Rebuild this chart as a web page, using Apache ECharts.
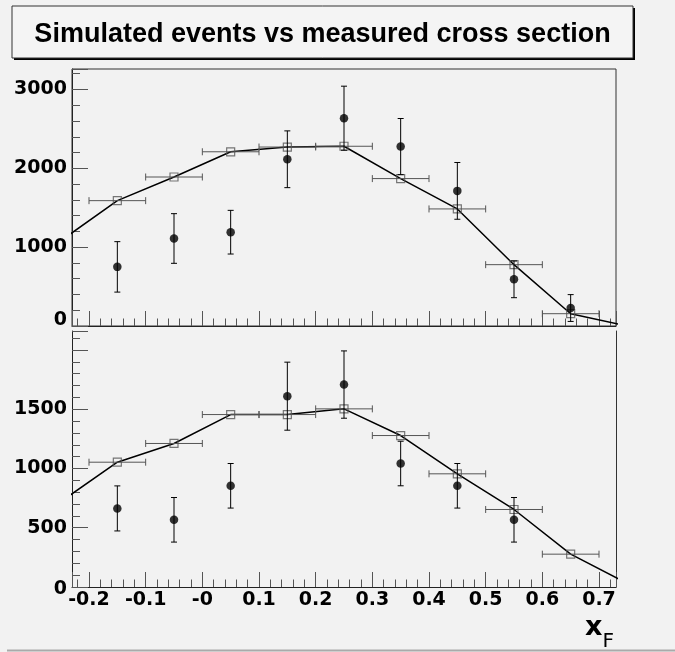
<!DOCTYPE html>
<html>
<head>
<meta charset="utf-8">
<title>Simulated events vs measured cross section</title>
<script src="https://cdn.jsdelivr.net/npm/echarts@6/dist/echarts.min.js"></script>
<style>
  html, body { margin: 0; padding: 0; background: #f2f2f2; }
  #chart { width: 675px; height: 652px; }
</style>
</head>
<body>
<div id="chart"></div>
<script>
// bins in x_F (each 0.1 wide)
const binCenters = [-0.15, -0.05, 0.05, 0.15, 0.25, 0.35, 0.45, 0.55, 0.65]
const binHalfWidth = [0.05, 0.05, 0.05, 0.05, 0.05, 0.05, 0.05, 0.05, 0.05]
// knots of the curve, one extra bin each side (clipped by the frame)
const curveX = [-0.25, -0.15, -0.05, 0.05, 0.15, 0.25, 0.35, 0.45, 0.55, 0.65, 0.75]

// upper panel
const topSimulated = [1590, 1890, 2210, 2270, 2280, 1870, 1485, 778, 156]
const topCurve = [1080, 1590, 1890, 2210, 2270, 2280, 1870, 1485, 778, 156, 0]
const topMeasured = [750, 1110, 1190, 2115, 2636, 2276, 1714, 592, 228]
const topMeasuredErr = [320, 315, 277, 360, 406, 356, 360, 233, 170]

// lower panel
const bottomSimulated = [1053, 1211, 1455, 1455, 1503, 1278, 955, 654, 277]
const bottomCurve = [720, 1053, 1211, 1455, 1455, 1503, 1278, 955, 654, 277, 30]
const bottomMeasured = [663, 567, 854, 1610, 1708, 1042, 854, 567]
const bottomMeasuredErr = [190, 188, 188, 287, 284, 188, 188, 188]

// axes
const xRange = [-0.23, 0.73]
const xTickValues = [-0.2, -0.1, 0, 0.1, 0.2, 0.3, 0.4, 0.5, 0.6, 0.7]
const xTickLabels = ['-0.2', '-0.1', '-0', '0.1', '0.2', '0.3', '0.4', '0.5', '0.6', '0.7']
const topYRange = [0, 3260]
const bottomYRange = [0, 2160]

const chart = echarts.init(document.getElementById('chart'))

const labelFont = { fontFamily: 'DejaVu Sans', fontWeight: 'bold', fontSize: 19, color: '#000' }

function xLabel(v) {
  const i = xTickValues.findIndex(t => Math.abs(t - v) < 1e-6)
  return i < 0 ? '' : xTickLabels[i]
}

// horizontal bar with end caps (simulated points)
function xErrBar(params, api) {
  const a = api.coord([api.value(0), api.value(2)])
  const b = api.coord([api.value(1), api.value(2)])
  const cap = 3.5
  const st = () => ({ stroke: '#555', lineWidth: 1 })
  return {
    type: 'group',
    children: [
      { type: 'line', shape: { x1: a[0], y1: a[1], x2: b[0], y2: b[1] }, style: st() },
      { type: 'line', shape: { x1: a[0], y1: a[1] - cap, x2: a[0], y2: a[1] + cap }, style: st() },
      { type: 'line', shape: { x1: b[0], y1: b[1] - cap, x2: b[0], y2: b[1] + cap }, style: st() }
    ]
  }
}

// vertical bar with end caps (measured points)
function yErrBar(params, api) {
  const lo = api.coord([api.value(0), api.value(1)])
  const hi = api.coord([api.value(0), api.value(2)])
  const cap = 3
  const st = () => ({ stroke: '#000', lineWidth: 1 })
  return {
    type: 'group',
    children: [
      { type: 'line', shape: { x1: lo[0], y1: lo[1], x2: hi[0], y2: hi[1] }, style: st() },
      { type: 'line', shape: { x1: lo[0] - cap, y1: lo[1], x2: lo[0] + cap, y2: lo[1] }, style: st() },
      { type: 'line', shape: { x1: hi[0] - cap, y1: hi[1], x2: hi[0] + cap, y2: hi[1] }, style: st() }
    ]
  }
}

function panelSeries(idx, sim, curve, meas, measErr) {
  return [
    {
      type: 'line', xAxisIndex: idx, yAxisIndex: idx, z: 2,
      data: curveX.map((x, i) => [x, curve[i]]),
      symbol: 'none', clip: true, silent: true,
      lineStyle: { color: '#000', width: 1.5 }
    },
    {
      type: 'custom', xAxisIndex: idx, yAxisIndex: idx, z: 3, silent: true,
      renderItem: xErrBar,
      encode: { x: [0, 1], y: 2 },
      data: binCenters.map((x, i) => [x - binHalfWidth[i], x + binHalfWidth[i], sim[i]])
    },
    {
      type: 'scatter', xAxisIndex: idx, yAxisIndex: idx, z: 4, silent: true,
      symbol: 'rect', symbolSize: 8,
      itemStyle: { color: 'rgba(0,0,0,0)', borderColor: '#555', borderWidth: 1.2 },
      data: binCenters.map((x, i) => [x, sim[i]])
    },
    {
      type: 'custom', xAxisIndex: idx, yAxisIndex: idx, z: 5, silent: true,
      renderItem: yErrBar,
      encode: { x: 0, y: [1, 2] },
      data: meas.map((m, i) => [binCenters[i], m - measErr[i], m + measErr[i]])
    },
    {
      type: 'scatter', xAxisIndex: idx, yAxisIndex: idx, z: 6, silent: true,
      symbol: 'circle', symbolSize: 8.5,
      itemStyle: { color: '#000' },
      data: meas.map((m, i) => [binCenters[i], m])
    }
  ]
}

function xAxisFor(gridIndex, showLabels) {
  return {
    type: 'value', gridIndex, min: xRange[0], max: xRange[1], splitNumber: 10,
    axisLine: { show: true, onZero: false, lineStyle: { color: '#222', width: 1 } },
    axisTick: { show: true, inside: true, length: 15, lineStyle: { color: '#555' } },
    minorTick: { show: true, splitNumber: 5, length: 7.5, lineStyle: { color: '#555' } },
    splitLine: { show: false },
    minorSplitLine: { show: false },
    axisLabel: Object.assign({
      show: showLabels, margin: 4, showMinLabel: false, showMaxLabel: false, formatter: xLabel
    }, labelFont)
  }
}

function yAxisFor(gridIndex, range, interval, formatter, rich) {
  return {
    type: 'value', gridIndex, position: 'left', min: range[0], max: range[1], interval,
    axisLine: { show: true, onZero: false, lineStyle: { color: '#222', width: 1 } },
    axisTick: { show: true, inside: true, length: 16, lineStyle: { color: '#555' } },
    minorTick: { show: true, splitNumber: 5, length: 8, lineStyle: { color: '#555' } },
    splitLine: { show: false },
    axisLabel: Object.assign({ margin: 5, showMaxLabel: false, formatter, rich }, labelFont)
  }
}

chart.setOption({
  backgroundColor: '#f2f2f2',
  animation: false,
  graphic: [
    // title box with its shadow
    { type: 'rect', shape: { x: 14, y: 8, width: 621, height: 52 }, style: { fill: '#000' } },
    { type: 'rect', shape: { x: 12, y: 6, width: 621, height: 52 }, style: { fill: '#f4f4f4', stroke: '#333', lineWidth: 1 } },
    {
      type: 'text', x: 322.5, y: 35,
      style: {
        text: 'Simulated events vs measured cross section',
        font: 'bold 27px "Liberation Sans"', fill: '#000',
        textAlign: 'center', textVerticalAlign: 'middle'
      }
    },
    { type: 'line', shape: { x1: 7, y1: 650.5, x2: 675, y2: 650.5 }, style: { stroke: '#aaa', lineWidth: 2 } }
  ],
  grid: [
    { left: 72, top: 69, width: 544, height: 257, show: true, borderColor: '#333', borderWidth: 1, backgroundColor: 'transparent', outerBoundsMode: 'none' },
    { left: 72, top: 331, width: 544, height: 256, outerBoundsMode: 'none' }
  ],
  xAxis: [
    xAxisFor(0, false),
    Object.assign(xAxisFor(1, true), {
      name: '{x|x}{f|F}',
      nameLocation: 'end',
      nameGap: -2,
      nameTextStyle: {
        align: 'right', verticalAlign: 'top', padding: [27.5, 0, 0, 0],
        rich: {
          x: { fontFamily: 'DejaVu Sans', fontWeight: 'bold', fontSize: 27, lineHeight: 26, verticalAlign: 'top', color: '#000' },
          f: { fontFamily: 'DejaVu Sans', fontSize: 20, lineHeight: 19, padding: [17, 0, 0, 0], verticalAlign: 'top', color: '#000' }
        }
      }
    })
  ],
  yAxis: [
    yAxisFor(0, topYRange, 1000,
      v => (v === 0 ? '{z|0}' : String(v)),
      { z: Object.assign({ padding: [0, 0, 12, 0] }, labelFont) }),
    yAxisFor(1, bottomYRange, 500,
      v => (v === 0 ? '{z|0}' : v === 2000 ? '' : String(v)),
      { z: Object.assign({ padding: [5, 0, 0, 0] }, labelFont) }),
    {
      // right edge of the lower frame
      type: 'value', gridIndex: 1, position: 'right', min: bottomYRange[0], max: bottomYRange[1],
      axisLine: { show: true, onZero: false, lineStyle: { color: '#333', width: 1 } },
      axisTick: { show: false }, axisLabel: { show: false }, splitLine: { show: false }
    }
  ],
  series: [
    ...panelSeries(0, topSimulated, topCurve, topMeasured, topMeasuredErr),
    ...panelSeries(1, bottomSimulated, bottomCurve, bottomMeasured, bottomMeasuredErr)
  ]
})
</script>
</body>
</html>
